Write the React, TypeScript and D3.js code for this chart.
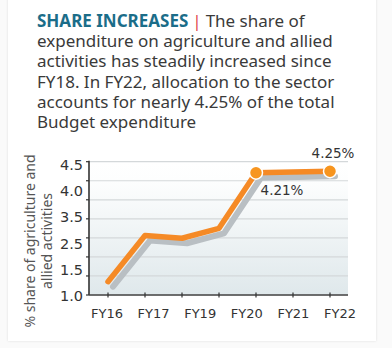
import React from "react";
import * as d3 from "d3";

const years = ["FY16", "FY17", "FY18", "FY19", "FY20", "FY21", "FY22"];
const shares = [1.35, 2.56, 2.49, 2.75, 4.21, 4.23, 4.25];
const xLabels = ["FY16", "FY17", "FY19", "FY20", "FY21", "FY22"];
const yTickLabels = ["4.5", "4.0", "3.5", "2.5", "1.5", "1.0"];
const gridValues = [1.0, 1.5, 2.0, 2.5, 3.0, 3.5, 4.0, 4.5];
const titleLines = [
  "expenditure on agriculture and allied",
  "activities has steadily increased since",
  "FY18. In FY22, allocation to the sector",
  "accounts for nearly 4.25% of the total",
  "Budget expenditure",
];

const W = 392;
const H = 348;
const FONT = "'Noto Sans', 'Open Sans', sans-serif";
const TICKFONT = "'DejaVu Sans', Verdana, sans-serif";

export default function App() {
  const x = d3.scalePoint<string>().domain(years).range([108, 330]);
  const y = d3.scaleLinear().domain([1, 4.5]).range([295, 161.7]);
  const plotL = 89;
  const plotR = 348;
  const line = d3
    .line<number>()
    .x((_, i) => x(years[i]) as number)
    .y((d) => y(d));
  const path = line(shares) || "";
  const xl = d3.scalePoint<string>().domain(xLabels).range([107, 340]);
  const yl = d3.scalePoint<string>().domain(yTickLabels).range([y(4.5) + 3, y(1.0) + 1]);
  const idx20 = years.indexOf("FY20");
  const idx22 = years.indexOf("FY22");

  return (
    <svg
      width={W}
      height={H}
      style={{ position: "absolute", left: 0, top: 0, background: "#fafafa" }}
      fontFamily={FONT}
    >
      <defs>
        <linearGradient id="bg" x1="0" y1="0" x2="0" y2="1">
          <stop offset="0" stopColor="#ffffff" />
          <stop offset="0.14" stopColor="#fdfefe" />
          <stop offset="1" stopColor="#dfe8eb" />
        </linearGradient>
        <filter id="sh" x="-5%" y="-5%" width="110%" height="110%">
          <feDropShadow dx="0" dy="0" stdDeviation="1.2" floodColor="#000" floodOpacity="0.12" />
        </filter>
      </defs>
      <rect x={8} y={-10} width={368} height={351} fill="#fff" filter="url(#sh)" />

      {/* Title */}
      <text x={37} y={27} fontSize={17} fill="#3a3a3a">
        <tspan fontWeight="bold" fill="#1b6d89">SHARE INCREASES</tspan>
        <tspan fill="#e0474c" dx={4}>|</tspan>
        <tspan dx={4}>The share of</tspan>
        {titleLines.map((t, i) => (
          <tspan key={i} x={37} y={47.3 + i * 20.1}>
            {t}
          </tspan>
        ))}
      </text>

      {/* plot background */}
      <rect x={plotL} y={y(4.5)} width={plotR - plotL} height={y(1) - y(4.5)} fill="url(#bg)" />
      {gridValues.map((v) => (
        <g key={v}>
          <line x1={plotL} x2={plotR} y1={y(v)} y2={y(v)} stroke="#d4d8da" strokeWidth={1.2} />
          <line x1={plotL - 3} x2={plotL} y1={y(v)} y2={y(v)} stroke="#333" strokeWidth={1.2} />
        </g>
      ))}
      <line x1={plotL} x2={plotL} y1={y(4.5) - 1} y2={y(1)} stroke="#333" strokeWidth={1.6} />
      <line x1={plotL} x2={plotR} y1={y(1)} y2={y(1)} stroke="#444" strokeWidth={1.6} />
      {years.map((yr) => (
        <line key={yr} x1={x(yr)} x2={x(yr)} y1={y(1) - 2.5} y2={y(1) + 2.5} stroke="#333" strokeWidth={1.2} />
      ))}

      {/* y tick labels */}
      {yTickLabels.map((t) => (
        <text key={t} x={plotL - 6} y={yl(t)} dy="0.36em" textAnchor="end" fontSize={14.5} fill="#333" fontFamily={TICKFONT}>
          {t}
        </text>
      ))}
      {/* x labels */}
      {xLabels.map((t) => (
        <text key={t} x={xl(t)} y={318} textAnchor="middle" fontSize={13} fill="#333" fontFamily={TICKFONT}>
          {t}
        </text>
      ))}

      {/* y title */}
      <g transform={`translate(35, 241) rotate(-90)`}>
        <text textAnchor="middle" fontSize={14} fill="#555">
          <tspan x={0} y={0}>% share of agriculture and</tspan>
          <tspan x={0} y={16.5}>allied activities</tspan>
        </text>
      </g>

      {/* shadow line */}
      <path d={path} transform="translate(5,5)" fill="none" stroke="#b9bfc3" strokeWidth={6} strokeLinejoin="round" strokeLinecap="round" />
      <path d={path} fill="none" stroke="#f58a26" strokeWidth={5.5} strokeLinejoin="round" strokeLinecap="round" />
      {[idx20, idx22].map((i) => (
        <circle key={i} cx={x(years[i])} cy={y(shares[i])} r={6.5} fill="#f7951f" stroke="#fff" strokeWidth={1.5} />
      ))}
      <text x={(x(years[idx20]) as number) + 26} y={y(shares[idx20]) + 22} textAnchor="middle" fontSize={13.5} fill="#333" fontFamily={TICKFONT}>
        {shares[idx20].toFixed(2)}%
      </text>
      <text x={(x(years[idx22]) as number) + 3} y={y(shares[idx22]) - 13} textAnchor="middle" fontSize={13.5} fill="#333" fontFamily={TICKFONT}>
        {shares[idx22].toFixed(2)}%
      </text>
    </svg>
  );
}
